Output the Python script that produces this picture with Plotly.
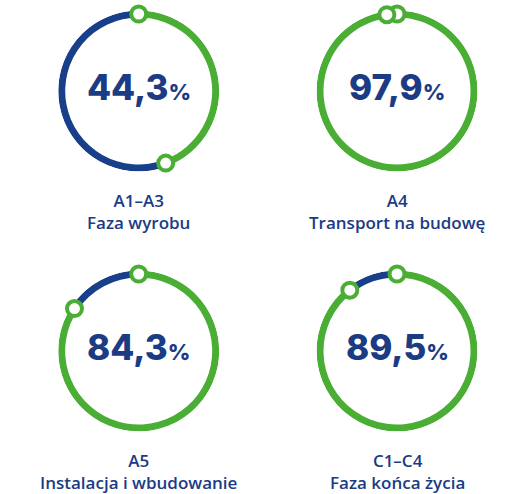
import plotly.graph_objects as go

# ---- data ----
stage_codes = ["A1–A3", "A4", "A5", "C1–C4"]
stage_names = ["Faza wyrobu", "Transport na budowę", "Instalacja i wbudowanie", "Faza końca życia"]
share_values = [44.3, 97.9, 84.3, 89.5]   # percent
value_labels = ["44,3", "97,9", "84,3", "89,5"]

# ---- style ----
W, H = 522, 494
GREEN = "#4AAE35"
BLUE = "#173F8A"
TEXT_BLUE = "#1B3B84"
R_OUT = 80.5           # px, outer radius of the ring
STROKE = 7.0           # px
centers = [(138.7, 91), (397, 91), (138.7, 351), (397, 351)]  # px layout positions

r_inner = (R_OUT - STROKE) / R_OUT
r_mid = (R_OUT - STROKE / 2) / R_OUT

fig = go.Figure()
layout = dict(width=W, height=H, margin=dict(l=0, r=0, t=0, b=0),
              paper_bgcolor="white", plot_bgcolor="white", showlegend=False)
annotations = []

for i, (code, name, v, lab) in enumerate(zip(stage_codes, stage_names, share_values, value_labels)):
    pid = "polar" if i == 0 else f"polar{i+1}"
    sub = pid
    cx, cy = centers[i]
    dom_x = [(cx - R_OUT) / W, (cx + R_OUT) / W]
    dom_y = [(H - cy - R_OUT) / H, (H - cy + R_OUT) / H]
    layout[pid] = dict(
        domain=dict(x=dom_x, y=dom_y),
        bgcolor="rgba(0,0,0,0)",
        angularaxis=dict(visible=False, rotation=90, direction="clockwise"),
        radialaxis=dict(visible=False, range=[0, 1]),
    )
    g_ang = v / 100 * 360
    b_ang = 360 - g_ang
    fig.add_trace(go.Barpolar(theta=[g_ang / 2], width=[g_ang], base=[r_inner], r=[1 - r_inner],
                              marker=dict(color=GREEN, line=dict(width=0)), subplot=sub, hoverinfo="skip"))
    fig.add_trace(go.Barpolar(theta=[g_ang + b_ang / 2], width=[b_ang], base=[r_inner], r=[1 - r_inner],
                              marker=dict(color=BLUE, line=dict(width=0)), subplot=sub, hoverinfo="skip"))
    fig.add_trace(go.Scatterpolar(theta=[0, g_ang], r=[r_mid, r_mid], mode="markers", cliponaxis=False,
                                  marker=dict(size=15, color="white", line=dict(width=4, color=GREEN)),
                                  subplot=sub, hoverinfo="skip"))
    annotations.append(dict(
        x=cx / W, y=(H - cy + 4) / H, xref="paper", yref="paper", xanchor="center", yanchor="middle",
        showarrow=False,
        text=f"{lab}<span style='font-size:22px'>%</span>",
        font=dict(family="Inter", size=35, color=TEXT_BLUE, weight=800),
    ))
    annotations.append(dict(
        x=cx / W, y=(H - cy - 120) / H, xref="paper", yref="paper", xanchor="center", yanchor="middle",
        showarrow=False, align="center",
        text=f"{code}<br>{name}",
        font=dict(family="Open Sans", size=17, color=TEXT_BLUE, weight=600),
    ))

layout["annotations"] = annotations
fig.update_layout(**layout)
fig.write_html("out.html", config={"displayModeBar": False},
               post_script="document.body.style.margin='0';")
